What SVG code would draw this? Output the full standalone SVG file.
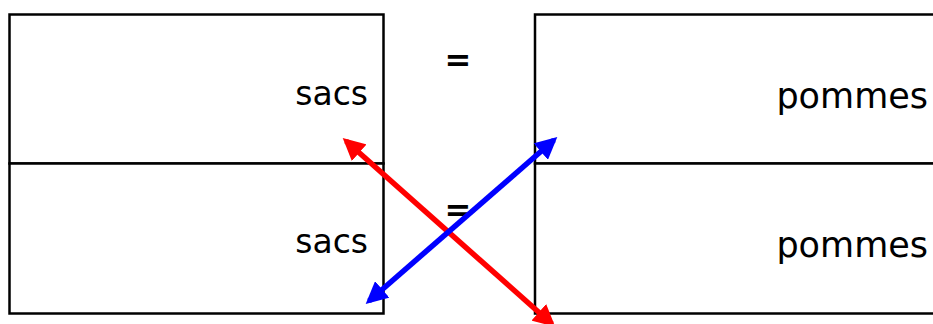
<svg xmlns="http://www.w3.org/2000/svg" width="933" height="324" viewBox="0 0 933 324">
<defs>
<style>
.box{fill:#fff;stroke:#000;stroke-width:2.5}
.t{font-family:"DejaVu Sans","Liberation Sans",sans-serif;fill:#000}
.s{font-size:33px;text-anchor:end}
.p{font-size:35px;text-anchor:end}
.eq{font-size:32px;text-anchor:middle;font-weight:bold}
</style>
<marker id="ar" viewBox="0 0 10 10" refX="8" refY="5" markerWidth="4" markerHeight="4" orient="auto-start-reverse" markerUnits="strokeWidth"><path d="M0,0 L10,5 L0,10 z" fill="#f00"/></marker>
<marker id="ab" viewBox="0 0 10 10" refX="8" refY="5" markerWidth="4" markerHeight="4" orient="auto-start-reverse" markerUnits="strokeWidth"><path d="M0,0 L10,5 L0,10 z" fill="#00f"/></marker>
</defs>
<g id="sacs1"><rect class="box" x="9.5" y="14.5" width="374" height="149"/><text class="t s" x="368" y="105">sacs</text></g>
<g id="sacs2"><rect class="box" x="9.5" y="163.5" width="374" height="150"/><text class="t s" x="368" y="253">sacs</text></g>
<g id="pommes1"><rect class="box" x="535" y="14.5" width="410" height="149"/><text class="t p" x="928" y="108">pommes</text></g>
<g id="pommes2"><rect class="box" x="535" y="163.5" width="410" height="150"/><text class="t p" x="928" y="257">pommes</text></g>
<g id="eq1"><text class="t eq" x="458" y="71">=</text></g>
<g id="eq2"><text class="t eq" x="458" y="221">=</text></g>
<g id="connectors">
<line x1="346" y1="141" x2="552" y2="324" stroke="#f00" stroke-width="5.5" marker-start="url(#ar)" marker-end="url(#ar)"/>
<line x1="369" y1="301" x2="554" y2="140" stroke="#00f" stroke-width="5.5" marker-start="url(#ab)" marker-end="url(#ab)"/>
</g>
</svg>
